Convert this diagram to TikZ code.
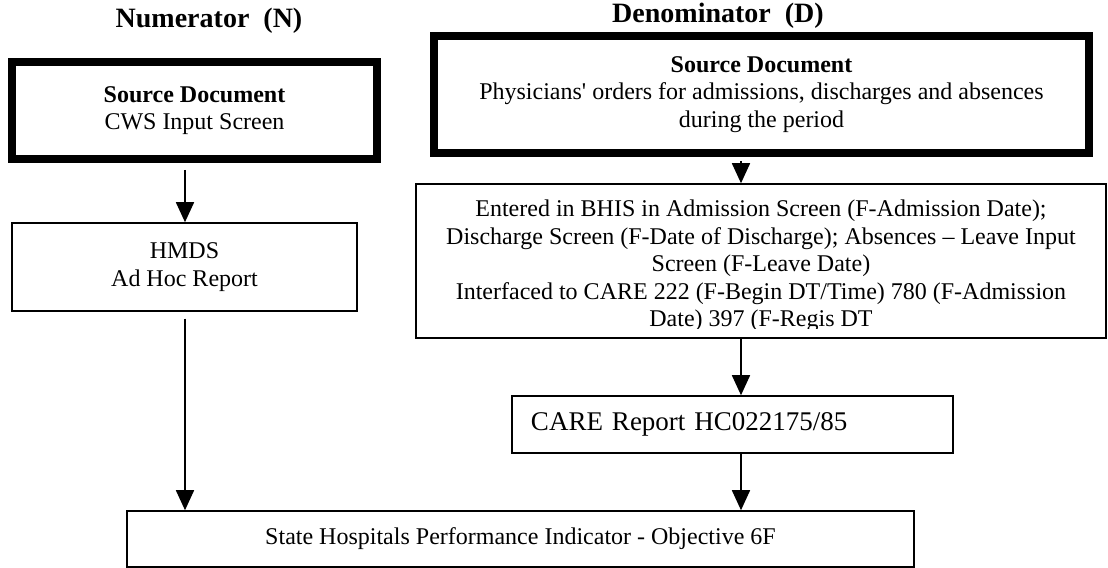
\documentclass[tikz,border=0pt]{standalone}
\usepackage{fontspec}
\setmainfont{Liberation Serif}
\usetikzlibrary{positioning,arrows.meta,calc}

\begin{document}
\begin{tikzpicture}[x=0.5bp, y=-0.5bp, >={Triangle[length=10bp,width=9bp]},
  font=\fontsize{12bp}{13.8bp}\selectfont,
  box/.style={draw, line width=0.75bp, inner sep=0pt, align=center},
  srcbox/.style={box, line width=4bp},
  title/.style={font=\fontsize{14bp}{16bp}\selectfont\bfseries},
  flow/.style={->, line width=0.75bp}]
  \useasboundingbox (0,0) rectangle (1108,568);
  \def\xN{185} \def\xD{741}
  \coordinate (colN) at (\xN,0);
  \coordinate (colD) at (\xD,0);
  % column titles
  \node[title] (titleN) at (209,21) {Numerator\ \ (N)};
  \node[title] (titleD) at (718,16) {Denominator\ \ (D)};
  % numerator side
  \node[srcbox, minimum width=182.5bp, minimum height=48.5bp] (srcN) at (194.5,110.5)
    {\textbf{Source Document}\\CWS Input Screen};
  \node[box, minimum width=172.5bp, minimum height=44bp] (hmds) at (184.5,267)
    {HMDS\\Ad Hoc Report};
  % denominator side
  \node[srcbox, minimum width=327.5bp, minimum height=58.5bp] (srcD) at (761.5,94.5)
    {\textbf{Source Document}\\Physicians\textquotesingle{} orders for admissions, discharges and absences\\during the period};
  \node[box, minimum width=345bp, minimum height=77bp] (mid) at (761,261) {};
  \begin{scope}
    \clip (mid.north west) rectangle ($(mid.south east)+(0,-10)$);
    \node[align=center] (midtext) at (761,266)
      {Entered in BHIS in Admission Screen (F-Admission Date);\\
       Discharge Screen (F-Date of Discharge); Absences – Leave Input\\
       Screen (F-Leave Date)\\
       Interfaced to CARE 222 (F-Begin DT/Time) 780 (F-Admission\\
       Date) 397 (F-Regis DT};
  \end{scope}
  \node[box, minimum width=220.5bp, minimum height=28.5bp, text width=201.5bp, align=left,
    inner xsep=9.5bp, font=\fontsize{13.5bp}{15bp}\selectfont] (care) at (732.5,424.5)
    {CARE Report HC022175/85};
  \node[box, minimum width=393.5bp, minimum height=28bp] (final) at (520.5,539)
    {State Hospitals Performance Indicator - Objective 6F};
  % connectors
  \draw[flow] ($(srcN.south -| colN)+(0,7)$) -- (hmds.north -| colN);
  \draw[flow] ($(hmds.south -| colN)+(0,7)$) -- (final.north -| colN);
  \draw[flow] ($(srcD.south -| colD)+(0,4)$) -- (mid.north -| colD);
  \draw[flow] (mid.south -| colD) -- (care.north -| colD);
  \draw[flow] (care.south -| colD) -- (final.north -| colD);
\end{tikzpicture}
\end{document}
